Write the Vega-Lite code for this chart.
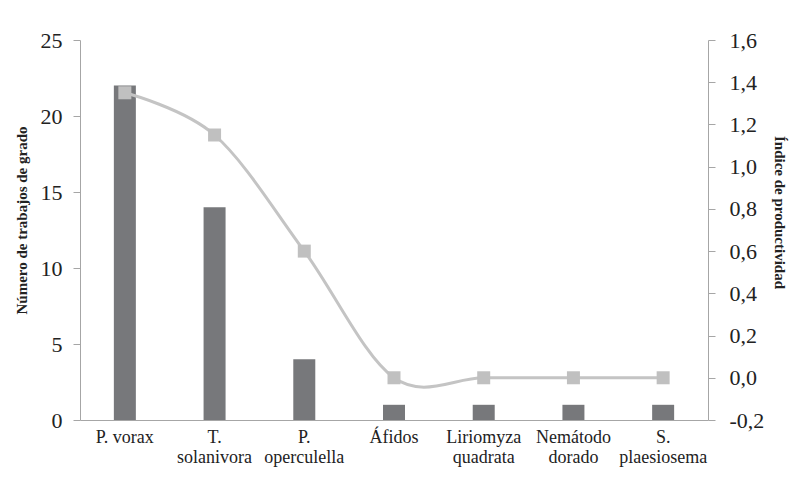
{
  "$schema": "https://vega.github.io/schema/vega-lite/v6.json",
  "width": 628,
  "height": 380,
  "autosize": {"type": "none"},
  "padding": {"left": 80, "top": 40, "right": 87, "bottom": 68},
  "background": "white",
  "config": {
    "font": "Liberation Serif",
    "view": {"stroke": null},
    "axis": {"grid": false, "domainColor": "#a6a6a6", "tickColor": "#a6a6a6", "labelColor": "#222222", "titleColor": "#222222", "labelFont": "Liberation Serif", "titleFont": "Liberation Serif"}
  },
  "data": {
    "values": [
      {"cat": "P. vorax", "trabajos": 22, "indice": 1.35},
      {"cat": "T.|solanivora", "trabajos": 14, "indice": 1.15},
      {"cat": "P.|operculella", "trabajos": 4, "indice": 0.6},
      {"cat": "Áfidos", "trabajos": 1, "indice": 0.0},
      {"cat": "Liriomyza|quadrata", "trabajos": 1, "indice": 0.0},
      {"cat": "Nemátodo|dorado", "trabajos": 1, "indice": 0.0},
      {"cat": "S.|plaesiosema", "trabajos": 1, "indice": 0.0}
    ]
  },
  "encoding": {
    "x": {
      "field": "cat", "type": "nominal", "sort": null,
      "scale": {"paddingInner": 0, "paddingOuter": 0},
      "axis": {"title": null, "labelAngle": 0, "ticks": false, "labelFontSize": 18, "labelPadding": 8, "labelLineHeight": 20, "labelExpr": "split(datum.value, '|')", "labelBaseline": "top"}
    }
  },
  "layer": [
    {
      "mark": {"type": "bar", "width": 22, "color": "#77787b"},
      "encoding": {
        "y": {
          "field": "trabajos", "type": "quantitative",
          "scale": {"domain": [0, 25]},
          "axis": {"title": "Número de trabajos de grado", "values": [0, 5, 10, 15, 20, 25], "labelFontSize": 22, "tickSize": 7, "labelPadding": 11, "titleFontSize": 15, "titleFontWeight": "bold", "titlePadding": 11, "titleY": 180}
        }
      }
    },
    {
      "mark": {"type": "line", "color": "#c4c4c4", "strokeWidth": 3, "interpolate": "cardinal"},
      "encoding": {
        "y": {
          "field": "indice", "type": "quantitative",
          "scale": {"domain": [-0.2, 1.6], "nice": false, "zero": false},
          "axis": {"orient": "right", "title": "Índice de productividad", "values": [-0.2, 0, 0.2, 0.4, 0.6, 0.8, 1.0, 1.2, 1.4, 1.6], "labelExpr": "replace(replace(format(datum.value, '.1f'), '.', ','), '−', '-')", "labelFontSize": 22, "tickSize": 7, "labelPadding": 14, "titleFontSize": 15, "titleFontWeight": "bold", "titleAngle": 90, "titlePadding": 8, "titleY": 172}
        }
      }
    },
    {
      "mark": {"type": "point", "shape": "square", "filled": true, "opacity": 1, "color": "#c0c0c0", "size": 169},
      "encoding": {
        "y": {"field": "indice", "type": "quantitative", "scale": {"domain": [-0.2, 1.6], "nice": false, "zero": false}, "axis": null}
      }
    }
  ],
  "resolve": {"scale": {"y": "independent"}, "axis": {"y": "independent"}}
}
